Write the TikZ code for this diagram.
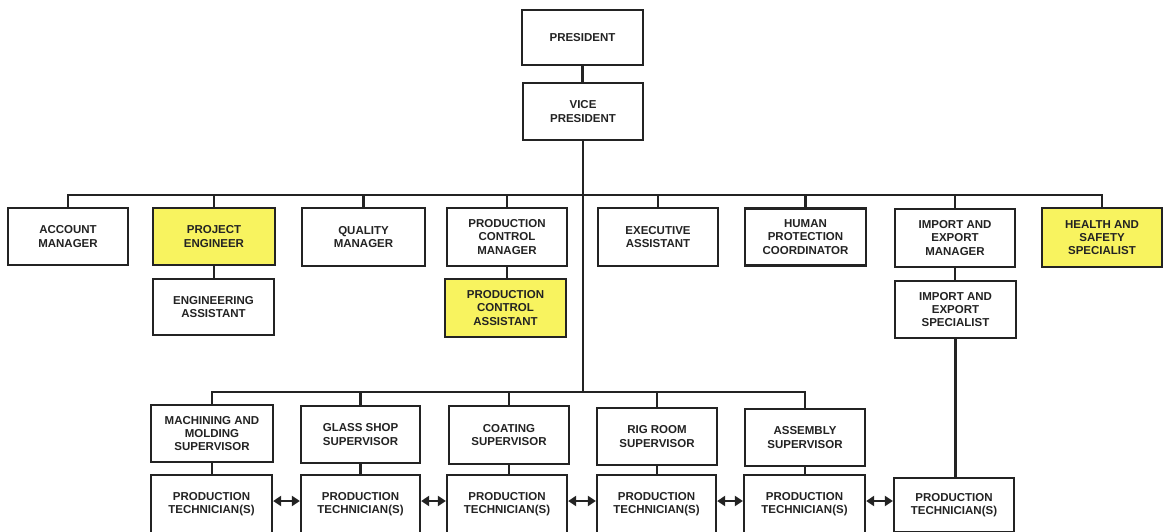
\documentclass[tikz,border=0pt]{standalone}
\usepackage{fontspec}
\setmainfont{Liberation Sans}
\usetikzlibrary{arrows.meta}
\definecolor{hiyel}{RGB}{248,243,95}
\definecolor{lncol}{RGB}{35,35,35}
\begin{document}
\begin{tikzpicture}[x=1pt,y=-1pt,
  box/.style={draw=lncol,line width=2.3pt,fill=white,align=center,inner sep=1pt,
    font=\fontsize{11.5}{13.4}\selectfont\bfseries,text=lncol},
  hbox/.style={box,fill=hiyel},
  conn/.style={draw=lncol,line width=2.3pt},
  dbl/.style={draw=lncol,line width=2.3pt,{Triangle[length=8pt,width=10pt]}-{Triangle[length=8pt,width=10pt]}}]
\useasboundingbox (0,0) rectangle (1164,531);
\clip (0,0) rectangle (1164,531);
\fill[white] (0,0) rectangle (1164,531);
% top
\node[box,minimum width=121,minimum height=55] (pres) at (582.5,37.5) {PRESIDENT};
\node[box,minimum width=120,minimum height=57] (vp) at (583,111.5) {VICE\\PRESIDENT};
% row 1
\node[box,minimum width=120,minimum height=57] (acc) at (68,236.5) {ACCOUNT\\MANAGER};
\node[hbox,minimum width=122,minimum height=57] (proj) at (214,236.5) {PROJECT\\ENGINEER};
\node[box,minimum width=121,minimum height=56] (eng) at (213.5,307) {ENGINEERING\\ASSISTANT};
\node[box,minimum width=123,minimum height=58] (qual) at (363.5,237) {QUALITY\\MANAGER};
\node[box,minimum width=120,minimum height=58] (pcm) at (507,237) {PRODUCTION\\CONTROL\\MANAGER};
\node[hbox,minimum width=121,minimum height=58] (pca) at (505.5,308) {PRODUCTION\\CONTROL\\ASSISTANT};
\node[box,minimum width=120,minimum height=58] (exec) at (658,237) {EXECUTIVE\\ASSISTANT};
\node[box,minimum width=121,minimum height=57] (hum) at (805.5,237) {HUMAN\\PROTECTION\\COORDINATOR};
\node[box,minimum width=120,minimum height=58] (iem) at (955,238) {IMPORT AND\\EXPORT\\MANAGER};
\node[box,minimum width=121,minimum height=57] (ies) at (955.5,309.5) {IMPORT AND\\EXPORT\\SPECIALIST};
\node[hbox,minimum width=120,minimum height=59] (hs) at (1102,237.5) {HEALTH AND\\SAFETY\\SPECIALIST};
% supervisors
\node[box,minimum width=122,minimum height=57] (mach) at (212,433.5) {MACHINING AND\\MOLDING\\SUPERVISOR};
\node[box,minimum width=119,minimum height=57] (glass) at (360.5,434.5) {GLASS SHOP\\SUPERVISOR};
\node[box,minimum width=120,minimum height=58] (coat) at (509,435) {COATING\\SUPERVISOR};
\node[box,minimum width=120,minimum height=57] (rig) at (657,436.5) {RIG ROOM\\SUPERVISOR};
\node[box,minimum width=120,minimum height=57] (asm) at (805,437.5) {ASSEMBLY\\SUPERVISOR};
% technicians
\node[box,minimum width=121,minimum height=58] (t1) at (211.5,504) {PRODUCTION\\TECHNICIAN(S)};
\node[box,minimum width=119,minimum height=58] (t2) at (360.5,504) {PRODUCTION\\TECHNICIAN(S)};
\node[box,minimum width=120,minimum height=58] (t3) at (507,504) {PRODUCTION\\TECHNICIAN(S)};
\node[box,minimum width=119,minimum height=58] (t4) at (656.5,504) {PRODUCTION\\TECHNICIAN(S)};
\node[box,minimum width=121,minimum height=58] (t5) at (804.5,504) {PRODUCTION\\TECHNICIAN(S)};
\node[box,minimum width=120,minimum height=54] (t6) at (954,505) {PRODUCTION\\TECHNICIAN(S)};
% bus coordinates
\coordinate (busA) at (0,195);
\coordinate (busB) at (0,392);
% connectors
\draw[conn] (pres.south) -- (pres.south |- vp.north);
\draw[conn] (vp.south) -- (vp.south |- busB);
\draw[conn] (acc.north) -- (acc.north |- busA) -- (hs.north |- busA) -- (hs.north);
\foreach \n in {proj,qual,pcm,exec,hum,iem} \draw[conn] (\n.north) -- (\n.north |- busA);
\draw[conn] (proj.south) -- (proj.south |- eng.north);
\draw[conn] (pcm.south) -- (pcm.south |- pca.north);
\draw[conn] (iem.south) -- (iem.south |- ies.north);
\draw[conn] (ies.south) -- (ies.south |- t6.north);
\draw[conn] (mach.north) -- (mach.north |- busB) -- (asm.north |- busB) -- (asm.north);
\foreach \n in {glass,coat,rig} \draw[conn] (\n.north) -- (\n.north |- busB);
\draw[conn] (mach.south) -- (mach.south |- t1.north);
\draw[conn] (glass.south) -- (glass.south |- t2.north);
\draw[conn] (coat.south) -- (coat.south |- t3.north);
\draw[conn] (rig.south) -- (rig.south |- t4.north);
\draw[conn] (asm.south) -- (asm.south |- t5.north);
\draw[dbl] ([yshift=3pt]t1.east) -- ([yshift=3pt]t2.west);
\draw[dbl] ([yshift=3pt]t2.east) -- ([yshift=3pt]t3.west);
\draw[dbl] ([yshift=3pt]t3.east) -- ([yshift=3pt]t4.west);
\draw[dbl] ([yshift=3pt]t4.east) -- ([yshift=3pt]t5.west);
\draw[dbl] ([yshift=3pt]t5.east) -- ([yshift=3pt]t5.east -| t6.west);
\end{tikzpicture}
\end{document}
